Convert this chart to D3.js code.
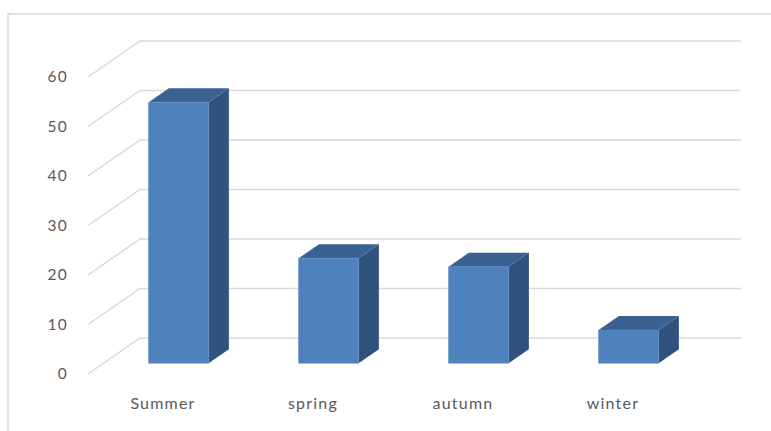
<!DOCTYPE html>
<html>
<head>
<meta charset="utf-8">
<script src="https://cdn.jsdelivr.net/npm/d3@7"></script>
<style>
  html, body { margin: 0; padding: 0; background: #fff; }
  svg { display: block; }
  text { font-family: Lato, "Open Sans", sans-serif; fill: #595959; }
</style>
</head>
<body>
<svg id="chart" width="771" height="431"></svg>
<script>
const categories = ["Summer", "spring", "autumn", "winter"];
const values = [52.7, 21.2, 19.5, 6.7];
const yTicks = [0, 10, 20, 30, 40, 50, 60];

const svg = d3.select("#chart");
const W = 771, H = 431;

// frame
svg.append("rect").attr("x", 8).attr("y", 14).attr("width", W + 10).attr("height", H + 10)
  .attr("fill", "none").attr("stroke", "#D9D9D9").attr("stroke-width", 1.5);

// oblique projection parameters
const floorFrontY = 374, frontX0 = 88, frontX1 = 688;
const depthDX = 52, depthDY = 36;
const backRight = 741;

const y = d3.scaleLinear().domain([0, 60]).range([0, 297]);
const x = d3.scaleBand().domain(categories).range([frontX0, frontX1])
  .paddingInner(0.6).paddingOuter(0.3);

function P(xf, v, d) {
  return [xf + d * depthDX, floorFrontY - y(v) - d * depthDY];
}

// gridlines
const grid = svg.append("g");
yTicks.forEach(t => {
  const a = P(frontX0, t, 0), b = P(frontX0, t, 1);
  grid.append("path")
    .attr("d", `M${a[0]},${a[1]}L${b[0]},${b[1]}L${backRight},${b[1]}`)
    .attr("fill", "none").attr("stroke", "#D9D9D9").attr("stroke-width", 1.5);
  grid.append("text").attr("x", 68).attr("y", a[1]).attr("dy", "0.35em")
    .attr("text-anchor", "end").attr("font-size", 15.5).attr("letter-spacing", 1.2)
    .text(t);
});

// bars
const d0 = 0.3, d1 = 0.69;
const bars = svg.append("g");
categories.forEach((c, i) => {
  const v = values[i];
  const xl = x(c), xr = x(c) + x.bandwidth();
  const fbl = P(xl, 0, d0), fbr = P(xr, 0, d0), ftl = P(xl, v, d0), ftr = P(xr, v, d0);
  const bbr = P(xr, 0, d1), btl = P(xl, v, d1), btr = P(xr, v, d1);
  // side
  bars.append("path")
    .attr("d", `M${fbr}L${ftr}L${btr}L${bbr}Z`)
    .attr("fill", "#30527D");
  // top
  bars.append("path")
    .attr("d", `M${ftl}L${ftr}L${btr}L${btl}Z`)
    .attr("fill", "#3A6290");
  // front
  bars.append("path")
    .attr("d", `M${fbl}L${ftl}L${ftr}L${fbr}Z`)
    .attr("fill", "#4F81BD").attr("stroke", "#5A8AC4").attr("stroke-width", 0.6);
});

// category labels
svg.append("g").selectAll("text").data(categories).join("text")
  .attr("x", d => x(d) + x.bandwidth() / 2)
  .attr("y", 403).attr("dy", "0.35em")
  .attr("text-anchor", "middle").attr("font-size", 16).attr("letter-spacing", 1.2)
  .text(d => d);
</script>
</body>
</html>
